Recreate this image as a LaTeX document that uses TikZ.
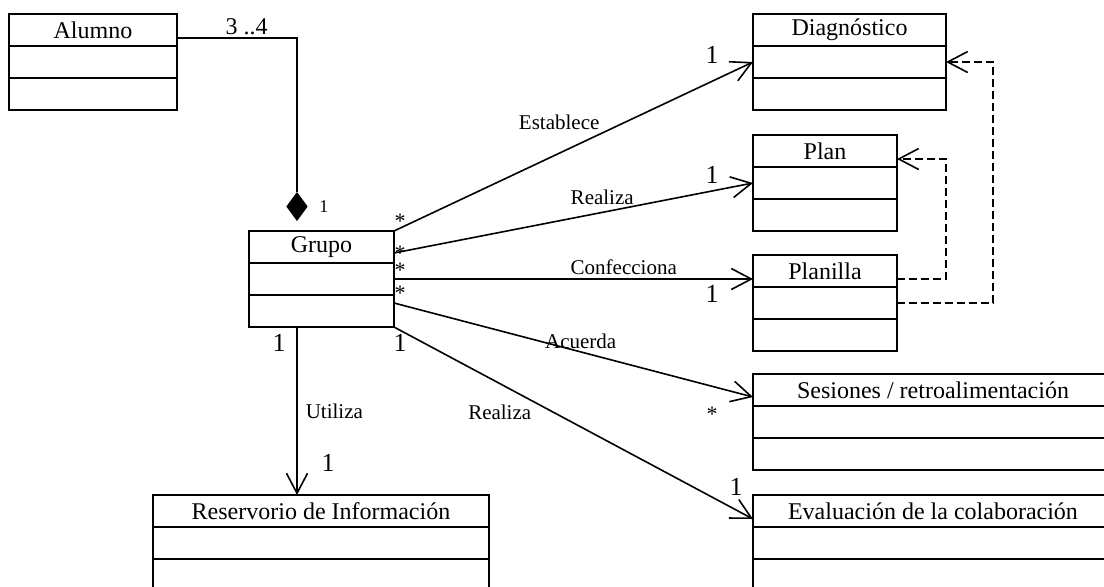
\documentclass[tikz,border=0pt]{standalone}
\usepackage{fontspec}
\setmainfont{Liberation Serif}
\usetikzlibrary{positioning,shapes.geometric,arrows.meta}

\begin{document}
\begin{tikzpicture}[x=0.5pt,y=-0.5pt,thick,>={Straight Barb[length=10pt,width=10.5pt]},
  head/.style={draw,rectangle,inner sep=0pt,outer sep=0pt,minimum height=16pt,font=\fontsize{12}{14}\selectfont},
  part/.style={draw,rectangle,inner sep=0pt,outer sep=0pt,minimum height=16pt},
  dep/.style={->,dash pattern=on 4pt off 2pt},
  role/.style={font=\fontsize{10.5}{12}\selectfont},
  mult/.style={font=\fontsize{13}{15}\selectfont,inner sep=0pt},
  many/.style={font=\fontsize{11}{13}\selectfont,inner sep=0pt}]

  \path[use as bounding box,clip] (0,0) rectangle (1104,586);

  % clases
  \node[head,minimum width=84pt,anchor=north west] (alumno) at (9,14) {Alumno};
  \node[part,minimum width=84pt,below=0pt of alumno] (alumno-a) {};
  \node[part,minimum width=84pt,below=0pt of alumno-a] (alumno-o) {};

  \node[head,minimum width=72.5pt,anchor=north west] (grupo) at (249,231) {Grupo};
  \node[part,minimum width=72.5pt,below=0pt of grupo] (grupo-a) {};
  \node[part,minimum width=72.5pt,below=0pt of grupo-a] (grupo-o) {};

  \node[head,minimum width=96.5pt,anchor=north west] (diag) at (753,14) {Diagnóstico};
  \node[part,minimum width=96.5pt,below=0pt of diag] (diag-a) {};
  \node[part,minimum width=96.5pt,below=0pt of diag-a] (diag-o) {};

  \node[head,minimum width=72pt,anchor=north west] (plan) at (753,135) {Plan};
  \node[part,minimum width=72pt,below=0pt of plan] (plan-a) {};
  \node[part,minimum width=72pt,below=0pt of plan-a] (plan-o) {};

  \node[head,minimum width=72pt,anchor=north west] (planilla) at (753,255) {Planilla};
  \node[part,minimum width=72pt,below=0pt of planilla] (planilla-a) {};
  \node[part,minimum width=72pt,below=0pt of planilla-a] (planilla-o) {};

  \node[head,minimum width=180pt,anchor=north west] (sesiones) at (753,374) {Sesiones / retroalimentación};
  \node[part,minimum width=180pt,below=0pt of sesiones] (sesiones-a) {};
  \node[part,minimum width=180pt,below=0pt of sesiones-a] (sesiones-o) {};

  \node[head,minimum width=180pt,anchor=north west] (eval) at (753,495) {Evaluación de la colaboración};
  \node[part,minimum width=180pt,below=0pt of eval] (eval-a) {};
  \node[part,minimum width=180pt,below=0pt of eval-a] (eval-o) {};

  \node[head,minimum width=168pt,anchor=north west] (reserv) at (153,495) {Reservorio de Información};
  \node[part,minimum width=168pt,below=0pt of reserv] (reserv-a) {};
  \node[part,minimum width=168pt,below=0pt of reserv-a] (reserv-o) {};

  % composicion
  \node[diamond,draw,fill,inner sep=0pt,minimum width=10pt,minimum height=13.5pt] (comp) at (297,206.5) {};
  \node[right=2pt of comp,font=\fontsize{9}{10}\selectfont] (m-comp) {1};
  \draw ([yshift=-4pt]alumno.east) -| (comp.north)
    node[pos=0.29,above,inner sep=1pt,font=\fontsize{12}{14}\selectfont] (m-alumno) {3 ..4};

  % asociaciones
  \draw[->] (grupo.north east) -- (diag-a.west)
    node[role,pos=0.58,anchor=south east,inner sep=1pt] (l-establece) {Establece};
  \draw[->] ([yshift=-11pt]grupo.north east) -- (plan-a.west)
    node[role,pos=0.58,above] (l-realiza) {Realiza};
  \draw[->] (grupo-a.east) -- (grupo-a.east -| planilla.west)
    node[role,pos=0.64,above,inner sep=2pt] (l-confecciona) {Confecciona};
  \draw[->] ([yshift=4pt]grupo-o.east) -- ([yshift=-3.5pt]sesiones.west)
    node[role,pos=0.52,above,inner sep=1pt] (l-acuerda) {Acuerda};
  \draw[->] (grupo-o.south east) -- ([yshift=-4pt]eval.west)
    node[role,pos=0.39,anchor=north east,inner sep=1pt] (l-evalua) {Realiza};
  \draw[->] (comp |- grupo-o.south) -- (comp |- reserv.north)
    node[role,pos=0.5,right,inner sep=4pt] (l-utiliza) {Utiliza};

  % dependencias
  \draw[dep] ([yshift=-4pt]planilla.east) -- ++(49,0) |- ([yshift=-4pt]plan.east);
  \draw[dep] (planilla-a.east) -- ++(96,0) |- (diag-a.east);

  % multiplicidades
  \node[many] (m-g1) at (400,221) {*};
  \node[many] (m-g2) at (400,253) {*};
  \node[many] (m-g3) at (400,270) {*};
  \node[many] (m-g4) at (400,293) {*};
  \node[mult] (m-g5) at (279,343) {1};
  \node[mult] (m-g6) at (400,343) {1};
  \node[mult] (m-diag) at (712,55) {1};
  \node[mult] (m-plan) at (712,175) {1};
  \node[mult] (m-planilla) at (712,294) {1};
  \node[many] (m-sesiones) at (712,414) {*};
  \node[mult] (m-eval) at (736,487) {1};
  \node[mult] (m-reserv) at (328,463) {1};

\end{tikzpicture}
\end{document}
